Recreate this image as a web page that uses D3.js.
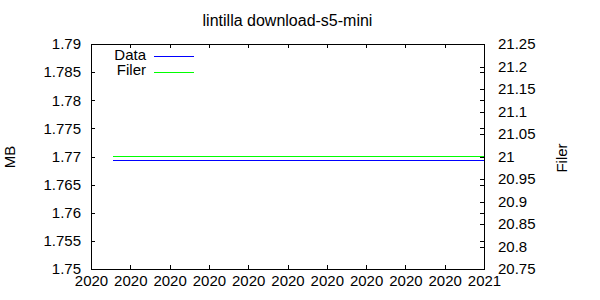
<html>
<head>
  <title>lintilla download-s5-mini</title>
  <script src="https://d3js.org/d3.v7.min.js"></script>
  <style>
    body { margin: 0; background: #fff; }
    text { font-family: "Liberation Sans", Arial, sans-serif; font-size: 15px; fill: #000; }
    .title { font-size: 16px; }
  </style>
</head>
<body>
  <div id="chart"></div>
  <script type="text/javascript">

    // x axis: one tick per day, gnuplot shows only the year
    var tickDates = ['2020-12-22', '2020-12-23', '2020-12-24', '2020-12-25', '2020-12-26', '2020-12-27',
                     '2020-12-28', '2020-12-29', '2020-12-30', '2020-12-31', '2021-01-01'];
    var tickLabels = ['2020', '2020', '2020', '2020', '2020', '2020', '2020', '2020', '2020', '2020', '2021'];

    // left axis (MB) and right axis (Filer)
    var mbTicks = [1.75, 1.755, 1.76, 1.765, 1.77, 1.775, 1.78, 1.785, 1.79];
    var mbLabels = ['1.75', '1.755', '1.76', '1.765', '1.77', '1.775', '1.78', '1.785', '1.79'];
    var filerTicks = [20.75, 20.8, 20.85, 20.9, 20.95, 21, 21.05, 21.1, 21.15, 21.2, 21.25];
    var filerLabels = ['20.75', '20.8', '20.85', '20.9', '20.95', '21', '21.05', '21.1', '21.15', '21.2', '21.25'];

    // series
    var sampleTimes = ['2020-12-22T13:30', '2021-01-01T00:00'];
    var dataMB = [1.76935, 1.76935];
    var filerCount = [21, 21];

    var width = 600, height = 300;
    var margin = {top: 44, right: 116, bottom: 31, left: 91};

    var parse = d3.isoParse;
    var x = d3.scaleTime()
              .domain([parse(tickDates[0]), parse(tickDates[tickDates.length - 1])])
              .range([margin.left, width - margin.right]);
    var y = d3.scaleLinear().domain([1.75, 1.79]).range([height - margin.bottom, margin.top]);
    var y2 = d3.scaleLinear().domain([20.75, 21.25]).range([height - margin.bottom, margin.top]);

    var svg = d3.select('#chart')
                .append('svg')
                  .attr('width', width)
                  .attr('height', height);

    var x_axis = d3.axisBottom(x)
                   .tickValues(tickDates.map(parse))
                   .tickSize(-4).tickPadding(6)
                   .tickFormat(function(d, i) { return tickLabels[i]; });
    var x_top = d3.axisTop(x)
                  .tickValues(tickDates.map(parse))
                  .tickSize(-4).tickFormat('');
    var y_axis = d3.axisLeft(y)
                   .tickValues(mbTicks)
                   .tickSize(-4).tickPadding(10)
                   .tickFormat(function(d, i) { return mbLabels[i]; });
    var y_mirror = d3.axisRight(y)
                     .tickValues(mbTicks)
                     .tickSize(-4).tickFormat('');
    var y2_axis = d3.axisRight(y2)
                    .tickValues(filerTicks)
                    .tickSize(-4).tickPadding(14)
                    .tickFormat(function(d, i) { return filerLabels[i]; });

    var bottom = height - margin.bottom, right = width - margin.right;

    function styleAxis(g) {
      g.select('.domain').remove();
      g.selectAll('line').attr('stroke', '#000').attr('shape-rendering', 'crispEdges');
      g.selectAll('text').attr('font-family', null).attr('font-size', null).style('fill', '#000');
    }

    svg.append('g').attr('transform', 'translate(0,' + bottom + ')').call(x_axis).call(styleAxis);
    svg.append('g').attr('transform', 'translate(0,' + margin.top + ')').call(x_top).call(styleAxis);
    svg.append('g').attr('transform', 'translate(' + margin.left + ',0)').call(y_axis).call(styleAxis);
    svg.append('g').attr('transform', 'translate(' + right + ',0)').call(y_mirror).call(styleAxis);
    svg.append('g').attr('transform', 'translate(' + right + ',0)').call(y2_axis).call(styleAxis);

    // plot border
    svg.append('rect')
       .attr('x', margin.left + 0.5).attr('y', margin.top + 0.5)
       .attr('width', right - margin.left).attr('height', bottom - margin.top)
       .attr('fill', 'none').attr('stroke', '#000').attr('shape-rendering', 'crispEdges');

    // lines
    var points = sampleTimes.map(function(t, i) {
      return {t: parse(t), mb: dataMB[i], filer: filerCount[i]};
    });
    var lineMB = d3.line().x(function(d) { return x(d.t); }).y(function(d) { return y(d.mb); });
    var lineFiler = d3.line().x(function(d) { return x(d.t); }).y(function(d) { return y2(d.filer); });

    svg.append('path').datum(points).attr('d', lineFiler)
       .attr('fill', 'none').attr('stroke', '#00ff00').attr('shape-rendering', 'crispEdges');
    svg.append('path').datum(points).attr('d', lineMB)
       .attr('fill', 'none').attr('stroke', '#0000ff').attr('shape-rendering', 'crispEdges');

    // legend
    var legend = [{name: 'Data', color: '#0000ff'}, {name: 'Filer', color: '#00ff00'}];
    var lg = svg.append('g').selectAll('g').data(legend).enter().append('g')
                .attr('transform', function(d, i) { return 'translate(0,' + (56 + i * 15.5) + ')'; });
    lg.append('text').attr('x', 146).attr('y', 0).attr('dy', '0.25em')
      .attr('text-anchor', 'end').text(function(d) { return d.name; });
    lg.append('line').attr('x1', 154).attr('x2', 194).attr('y1', 0.5).attr('y2', 0.5)
      .attr('stroke', function(d) { return d.color; }).attr('shape-rendering', 'crispEdges');

    // title and axis labels
    svg.append('text').attr('class', 'title').attr('x', (margin.left + right) / 2).attr('y', 26)
       .attr('text-anchor', 'middle').text('lintilla download-s5-mini');
    svg.append('text').attr('transform', 'translate(15,157) rotate(-90)')
       .attr('text-anchor', 'middle').text('MB');
    svg.append('text').attr('transform', 'translate(567,158) rotate(-90)')
       .attr('text-anchor', 'middle').text('Filer');

  </script>
</body>
</html>
